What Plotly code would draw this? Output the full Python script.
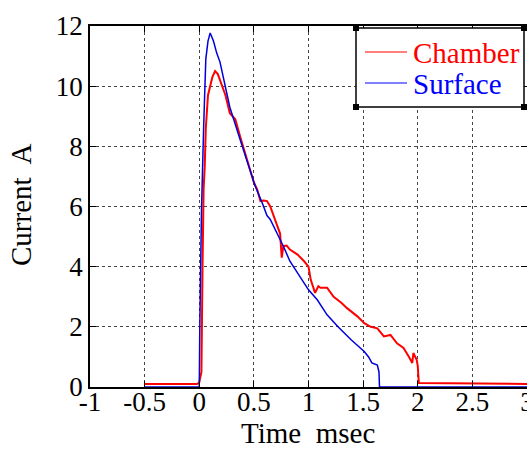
import plotly.graph_objects as go

chamber_t = [-0.5, -0.02, 0.0, 0.02, 0.03, 0.04, 0.05, 0.06, 0.08, 0.10, 0.12, 0.145, 0.17, 0.19,
             0.22, 0.24, 0.28, 0.33, 0.376, 0.44, 0.50, 0.53, 0.56, 0.59, 0.62, 0.65, 0.68, 0.71,
             0.74, 0.755, 0.77, 0.80, 0.83, 0.90, 0.96, 1.0, 1.02, 1.06, 1.09, 1.11, 1.17, 1.23,
             1.30, 1.35, 1.45, 1.51, 1.57, 1.63, 1.69, 1.75, 1.81, 1.87, 1.92, 1.95, 1.96, 1.99,
             2.0, 2.01, 3.0]
chamber_i = [0.1, 0.1, 0.15, 0.5, 4.0, 6.6, 7.3, 8.6, 9.7, 10.0, 10.3, 10.5, 10.4, 10.2,
             9.9, 9.7, 9.1, 8.9, 8.3, 7.5, 6.8, 6.57, 6.18, 6.2, 6.18, 6.0, 5.67, 5.4,
             5.1, 4.3, 4.68, 4.7, 4.57, 4.4, 4.18, 4.0, 3.57, 3.13, 3.35, 3.3, 3.3, 3.0,
             2.8, 2.63, 2.34, 2.12, 2.0, 1.95, 1.68, 1.73, 1.45, 1.3, 1.0, 0.8, 1.13, 0.9,
             0.7, 0.13, 0.1]

surface_t = [-0.5, 0.0, 0.005, 0.02, 0.04, 0.06, 0.08, 0.10, 0.13, 0.16, 0.19, 0.24, 0.28,
             0.376, 0.44, 0.51, 0.575, 0.62, 0.65, 0.71, 0.77, 0.83, 0.93, 1.0, 1.08, 1.17,
             1.27, 1.39, 1.51, 1.55, 1.58, 1.63, 1.645, 1.65, 3.0]
surface_i = [0.0, 0.0, 2.0, 5.8, 8.6, 10.9, 11.5, 11.77, 11.5, 11.1, 10.8, 10.0, 9.3,
             8.2, 7.5, 6.7, 6.13, 5.7, 5.57, 5.13, 4.68, 4.18, 3.63, 3.23, 2.9, 2.4,
             2.0, 1.57, 1.18, 1.0, 0.8, 0.73, 0.5, 0.0, 0.0]

series_names = ["Chamber", "Surface"]
series_colors = ["#ff0000", "#0000dd"]
x_ticks = [-1, -0.5, 0, 0.5, 1, 1.5, 2, 2.5, 3]
x_labels = ["-1", "-0.5", "0", "0.5", "1", "1.5", "2", "2.5", "3"]
y_ticks = [0, 2, 4, 6, 8, 10, 12]
x_title = "Time  msec"
y_title = "Current  A"

FONT = "Liberation Serif, Times New Roman, serif"
W, H = 527, 449
ML, MR, MT, MB = 90, 0, 26, 62
PW, PH = W - ML - MR, H - MT - MB


def px(x):
    return (x - ML) / PW


def py(y):
    return (H - MB - y) / PH


fig = go.Figure()
fig.add_trace(go.Scatter(x=chamber_t, y=chamber_i, mode="lines", name=series_names[0],
                         line=dict(color=series_colors[0], width=2), showlegend=False))
fig.add_trace(go.Scatter(x=surface_t, y=surface_i, mode="lines", name=series_names[1],
                         line=dict(color=series_colors[1], width=1.5), showlegend=False))

axis_common = dict(showline=True, linecolor="black", linewidth=1.5, mirror="ticks",
                   ticks="inside", ticklen=6, tickcolor="black", tickwidth=1,
                   showgrid=True, gridcolor="#444444", griddash="dot", gridwidth=1,
                   zeroline=False, automargin=False, ticklabeloverflow="allow",
                   tickfont=dict(family=FONT, size=27, color="black"))

fig.update_xaxes(range=[-1, 3], tickvals=x_ticks, ticktext=x_labels,
                 ticklabelstandoff=-10, **axis_common)
fig.update_yaxes(range=[0, 12], tickvals=y_ticks, **axis_common)

annotations = [
    dict(text=x_title, x=px(308), y=py(433), xref="paper", yref="paper",
         xanchor="center", yanchor="middle", showarrow=False,
         font=dict(family=FONT, size=29, color="black")),
    dict(text=y_title, x=px(21), y=py(205), xref="paper", yref="paper",
         xanchor="center", yanchor="middle", showarrow=False, textangle=-90,
         font=dict(family=FONT, size=29, color="black")),
]

# manual legend box
LX0, LX1, LY0, LY1 = 356, 524, 28, 107
shapes = [dict(type="rect", xref="paper", yref="paper", x0=px(LX0), x1=px(LX1),
               y0=py(LY1), y1=py(LY0), line=dict(color="black", width=1.5),
               fillcolor="white", layer="above")]
for cx, cy in [(LX0, LY0), (LX1, LY0), (LX0, LY1), (LX1, LY1)]:
    shapes.append(dict(type="rect", xref="paper", yref="paper",
                       x0=px(cx - 3), x1=px(cx + 3), y0=py(cy + 3), y1=py(cy - 3),
                       line=dict(color="black", width=0), fillcolor="black", layer="above"))
rows_y = [52, 83]
for name, color, ry in zip(series_names, ["#ff0000", "#0000ff"], rows_y):
    shapes.append(dict(type="line", xref="paper", yref="paper",
                       x0=px(365), x1=px(407), y0=py(ry), y1=py(ry),
                       line=dict(color=color, width=1.2), layer="above"))
    annotations.append(dict(text=name, x=px(411), y=py(ry + 1), xref="paper", yref="paper",
                            xanchor="left", yanchor="middle", showarrow=False,
                            font=dict(family=FONT, size=29, color=color)))

fig.update_layout(
    width=W, height=H,
    margin=dict(l=ML, r=MR, t=MT, b=MB),
    plot_bgcolor="white", paper_bgcolor="white",
    showlegend=False,
    annotations=annotations,
    shapes=shapes,
)

fig.write_html("out.html", config={"displayModeBar": False},
               post_script="document.body.style.margin='0';"
                           "document.body.style.overflow='hidden';"
                           "document.documentElement.style.overflow='hidden';")
